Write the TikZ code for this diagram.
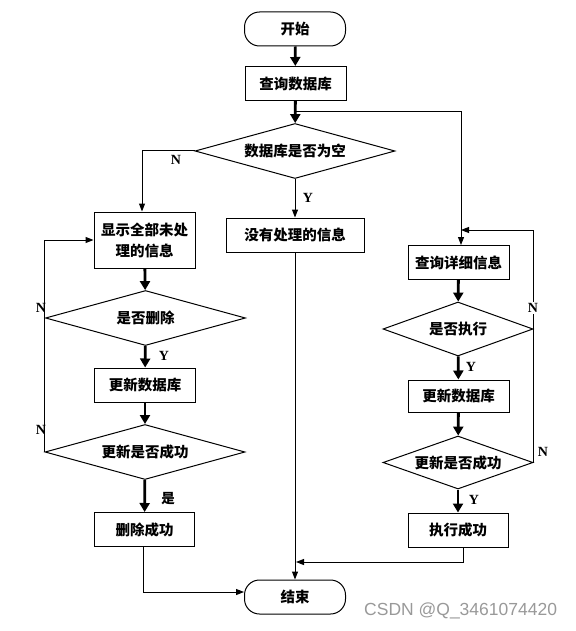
\documentclass[tikz,border=0pt]{standalone}
\usepackage{fontspec}
\setmainfont{Liberation Serif}
\newfontfamily\cjk{Noto Sans CJK SC}
\newfontfamily\wmfont{Liberation Sans}
\usetikzlibrary{shapes.geometric,arrows.meta}
\begin{document}
\begin{tikzpicture}[x=1pt,y=-1pt,
  txt/.style={font=\cjk\bfseries\fontsize{14.5}{21}\selectfont},
  box/.style={draw,line width=1pt,inner sep=0pt,txt,align=center,minimum width=101pt,minimum height=34pt},
  term/.style={box,rounded corners=15pt},
  dia/.style={draw,diamond,line width=1pt,inner sep=0pt,txt},
  tarrow/.style={line width=2.8pt,-{Triangle[length=9pt,width=10pt]}},
  sarrow/.style={line width=1pt,-{Triangle[length=8pt,width=6pt]}},
  lbl/.style={inner sep=0pt,font=\bfseries\fontsize{14}{14}\selectfont}
]
\useasboundingbox (0,0) rectangle (575,631);

% nodes
\node[term] (start) at (295,29) {开始};
\node[box] (q1) at (295.5,83.5) {查询数据库};
\node[dia,aspect=3.6,minimum width=200pt,minimum height=55pt] (d1) at (295,151) {数据库是否为空};
\node[box,minimum width=138pt] (nodata) at (295,235) {没有处理的信息};
\node[box,minimum height=56pt] (show) at (144.5,240) {显示全部未处\\理的信息};
\node[dia,aspect=3.6,minimum width=200pt,minimum height=55pt] (d2) at (145.5,318) {是否删除};
\node[box] (up1) at (145,385) {更新数据库};
\node[dia,aspect=3.6,minimum width=200pt,minimum height=55pt] (d3) at (145,452) {更新是否成功};
\node[box,minimum width=100pt] (del) at (144.5,529.5) {删除成功};
\node[term] (end) at (295,597) {结束};

\node[box] (detail) at (458.5,262.5) {查询详细信息};
\node[dia,aspect=2.8,minimum width=150pt,minimum height=54pt] (d4) at (458,329) {是否执行};
\node[box,minimum height=32pt] (up2) at (458.5,396) {更新数据库};
\node[dia,aspect=2.8,minimum width=150pt,minimum height=53pt] (d5) at (458,462.5) {更新是否成功};
\node[box,minimum width=100pt] (exec) at (458,530) {执行成功};

% coordinates
\coordinate (br) at (295,112);
\coordinate (rt) at (461,112);
\coordinate (rloop) at (461,230);

% main flow
\draw[tarrow] (start) -- (q1);
\draw[tarrow] (q1) -- (d1);
\draw[sarrow] (br) -- (rt) -- (rt |- detail.north);
\draw[sarrow] (d1.west) -| ([xshift=-2.5pt]show.north);
\draw[sarrow] (d1.south) -- (nodata.north);
\draw[tarrow] (show) -- (d2);
\draw[tarrow] (d2) -- (up1);
\draw[tarrow] (up1) -- (d3);
\draw[tarrow] (d3) -- (del);
\draw[sarrow] (d3.west) -- (d3.west |- show.west) -- (show.west);
\draw[tarrow] (detail) -- (d4);
\draw[tarrow] (d4) -- (up2);
\draw[tarrow] (up2) -- (d5);
\draw[tarrow] (d5) -- (exec);
\draw[sarrow] (d5.east) -- (d5.east |- rloop) -- (rloop);
\draw[sarrow] (nodata.south) -- (end.north);
\draw[sarrow] ([xshift=5pt]exec.south) |- (296,562);
\draw[sarrow] ([xshift=-1.5pt]del.south) |- ([yshift=5pt]end.west);

% labels
\node[lbl] (ln1) at (176,160) {N};
\node[lbl] (ly1) at (308,198) {Y};
\node[lbl] (ly2) at (164,356) {Y};
\node[lbl,font=\cjk\bfseries\fontsize{13.5}{13.5}\selectfont] (lshi) at (168,499) {是};
\node[lbl] (ln2) at (41,308) {N};
\node[lbl] (ln3) at (41,430) {N};
\node[lbl] (ly3) at (471,367) {Y};
\node[lbl] (ly4) at (474,500) {Y};
\node[lbl,fill=white,inner ysep=1.5pt] (ln4) at (533,308) {N};
\node[lbl] (ln5) at (543,452) {N};

% watermark
\node[anchor=west,inner sep=0pt,text=black!40,font=\wmfont\fontsize{17.5}{17.5}\selectfont] (wm) at (364,611) {CSDN @Q\_3461074420};
\end{tikzpicture}
\end{document}
